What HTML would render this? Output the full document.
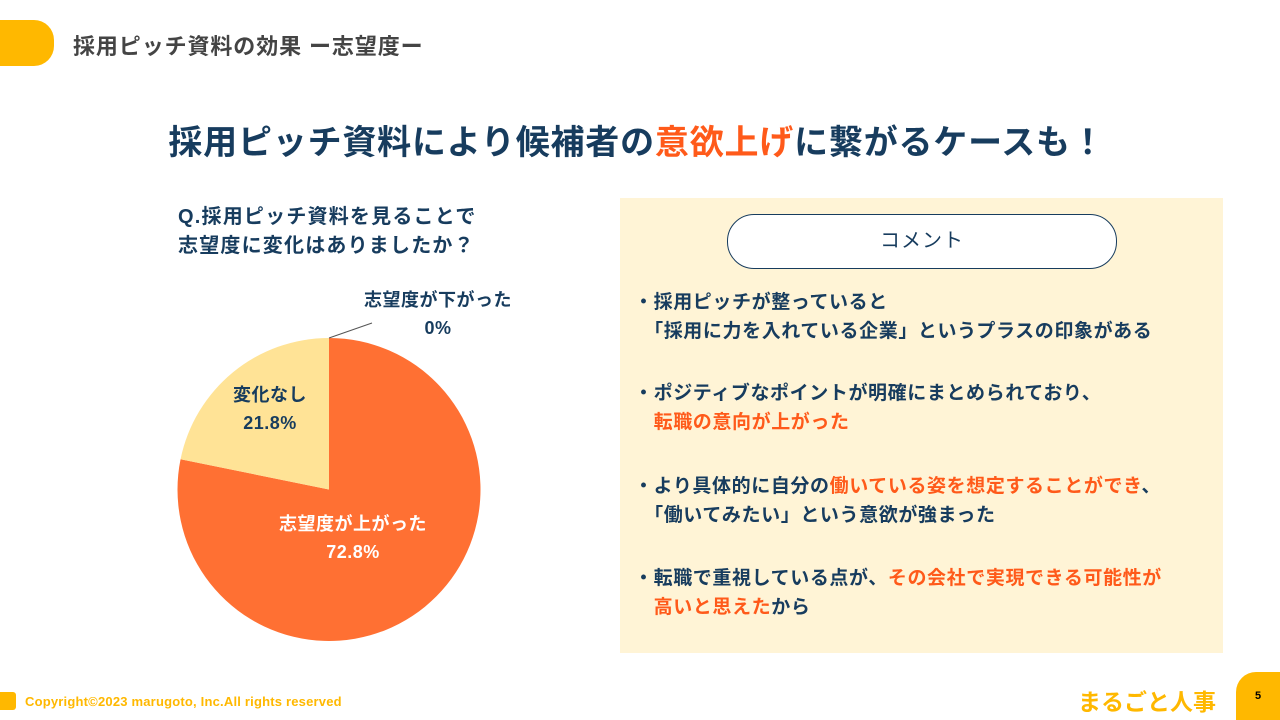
<!DOCTYPE html>
<html><head><meta charset="utf-8">
<style>
body{margin:0;width:1280px;height:720px;background:#fff;position:relative;overflow:hidden;font-family:"Liberation Sans","Noto Sans CJK JP",sans-serif;font-weight:bold;color:#173c5e}
.abs{position:absolute;white-space:nowrap}
.hl{color:#ff5a1a}
.b{font-size:19px;line-height:29px;letter-spacing:0.6px}
</style></head><body>
<div class="abs" style="left:0;top:20px;width:54px;height:46px;background:#ffb800;border-radius:0 20px 20px 0"></div>
<div class="abs" style="left:73px;top:29px;font-size:22px;letter-spacing:0.9px;color:#444">採用ピッチ資料の効果 ー志望度ー</div>
<div class="abs" style="left:0;width:1274px;text-align:center;top:115px;font-size:34px;letter-spacing:0.8px">採用ピッチ資料により候補者の<span class="hl">意欲上げ</span>に繋がるケースも！</div>
<div class="abs" style="left:178px;top:203px;font-size:20px;letter-spacing:1.2px;line-height:29px">Q.採用ピッチ資料を見ることで<br>志望度に変化はありましたか？</div>
<svg class="abs" style="left:0;top:0" width="620" height="720" id="pie"></svg>
<div class="abs" style="left:620px;top:198px;width:603px;height:455px;background:#fff4d6"></div>
<div class="abs" style="left:727px;top:214px;width:388px;height:53px;border:1px solid #173c5e;border-radius:27px;background:#fff;text-align:center;line-height:53px;font-size:20px;font-weight:normal;letter-spacing:1px">コメント</div>
<div class="abs b" style="left:634px;top:288px">・採用ピッチが整っていると<br>　「採用に力を入れている企業」というプラスの印象がある</div>
<div class="abs b" style="left:634px;top:379px">・ポジティブなポイントが明確にまとめられており、<br>　<span class="hl">転職の意向が上がった</span></div>
<div class="abs b" style="left:634px;top:472px">・より具体的に自分の<span class="hl">働いている姿を想定することができ</span>、<br>　「働いてみたい」という意欲が強まった</div>
<div class="abs b" style="left:634px;top:564px">・転職で重視している点が、<span class="hl">その会社で実現できる可能性が</span><br>　<span class="hl">高いと思えた</span>から</div>
<div class="abs" style="left:0;top:692px;width:16px;height:18px;background:#ffb800;border-radius:0 3px 3px 0"></div>
<div class="abs" style="left:25px;top:694px;font-size:13px;letter-spacing:0.2px;color:#ffb800">Copyright©2023 marugoto, Inc.All rights reserved</div>
<div class="abs" style="left:1078px;top:683px;font-size:23px;color:#ffb800">まるごと人事</div>
<div class="abs" style="left:1236px;top:672px;width:44px;height:48px;background:#ffb800;border-radius:20px 0 0 0;text-align:center;line-height:48px;font-size:11px;color:#000">5</div>
<script>
const categories=["志望度が上がった","変化なし","志望度が下がった"];
const drawValues=[78.2,21.8,0];
const valueLabels=["72.8%","21.8%","0%"];
const colors=["#ff7033","#ffe396","#ff7033"];
const NS="http://www.w3.org/2000/svg";
const svg=document.getElementById('pie');
const cx=329,cy=489.5,r=151.5;
const total=drawValues.reduce((a,b)=>a+b,0);
function pt(a,rr){return [cx+rr*Math.sin(a),cy-rr*Math.cos(a)];}
let start=0;
drawValues.forEach((v,i)=>{
  if(v<=0)return;
  const end=start+v/total*2*Math.PI;
  const [x1,y1]=pt(start,r),[x2,y2]=pt(end,r);
  const p=document.createElementNS(NS,'path');
  p.setAttribute('d',`M${cx},${cy}L${x1},${y1}A${r},${r} 0 ${end-start>Math.PI?1:0} 1 ${x2},${y2}Z`);
  p.setAttribute('fill',colors[i]);
  
  
  svg.appendChild(p);
  start=end;
});
function label(lines,x,y,fill){
  lines.forEach((t,k)=>{
    const e=document.createElementNS(NS,'text');
    e.setAttribute('x',x);e.setAttribute('y',y+k*28);
    e.setAttribute('text-anchor','middle');e.setAttribute('font-size','18');
    e.setAttribute('letter-spacing','0.5');
    e.setAttribute('font-weight','bold');e.setAttribute('fill',fill);
    
    
    e.textContent=t;svg.appendChild(e);
  });
}
label([categories[0],valueLabels[0]],353,530,"#fff");
label([categories[1],valueLabels[1]],270,401,"#173c5e");
label([categories[2],valueLabels[2]],438,306,"#173c5e");
const ln=document.createElementNS(NS,'line');
ln.setAttribute('x1',cx);ln.setAttribute('y1',cy-r);ln.setAttribute('x2',372);ln.setAttribute('y2',323);
ln.setAttribute('stroke','#555');ln.setAttribute('stroke-width','1');


svg.appendChild(ln);
</script>
</body></html>
